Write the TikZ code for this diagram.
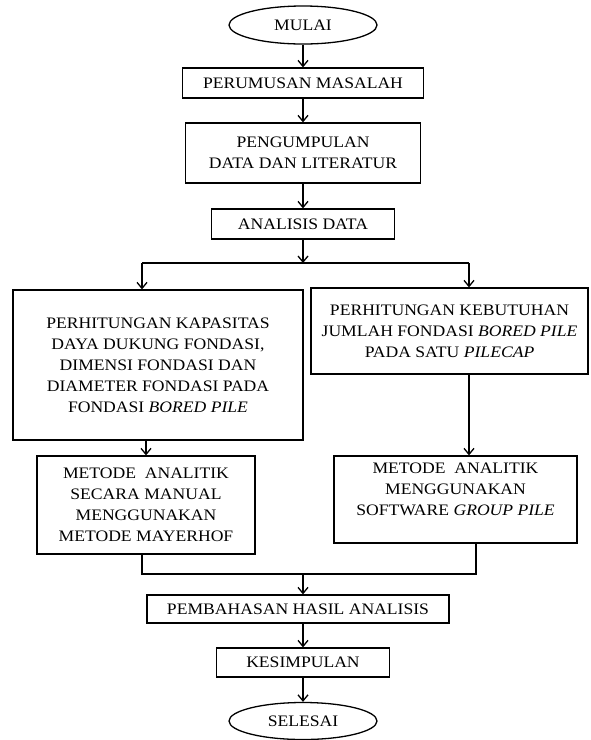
\documentclass[tikz,border=0pt]{standalone}
\usepackage{fontspec}
\setmainfont[FakeStretch=1.1]{Liberation Serif}
\usepackage{tikz}
\usetikzlibrary{shapes,arrows,arrows.meta}
\tikzstyle{block} = [draw,rectangle,fill=white,line width=1.3pt,align=center,inner sep=3pt,font=\fontsize{16}{21}\selectfont]
\tikzstyle{terminal} = [draw,ellipse,fill=white,line width=1.3pt,minimum width=148pt,minimum height=38pt,inner sep=0pt,font=\fontsize{16}{21}\selectfont]
\tikzstyle{line} = [draw,line width=1.3pt]
\tikzstyle{arrowLine} = [draw,-{Straight Barb[length=6pt,width=10pt]},line width=1.3pt]
\begin{document}
\begin{tikzpicture}[x=1pt,y=-1pt]
		\useasboundingbox (0,0) rectangle (590,740);
		\node[terminal](mulai) at (303,25){MULAI};
		\node[block,below of=mulai,node distance=58pt,minimum width=241pt,minimum height=30pt](perumusan){PERUMUSAN MASALAH};
		\node[block,below of=perumusan,node distance=70pt,minimum width=235pt,minimum height=60pt](pengumpulan){PENGUMPULAN\\DATA DAN LITERATUR};
		\node[block,below of=pengumpulan,node distance=71pt,minimum width=183pt,minimum height=30pt](analisis){ANALISIS DATA};
		\node[block,below of=analisis,node distance=141pt,xshift=-145pt,minimum width=290pt,minimum height=150pt](dayaDukung){PERHITUNGAN KAPASITAS\\DAYA DUKUNG FONDASI,\\DIMENSI FONDASI DAN\\DIAMETER FONDASI PADA\\FONDASI \textit{BORED PILE}};
		\node[block,below of=analisis,node distance=107pt,xshift=146.5pt,minimum width=277pt,minimum height=86pt](kebutuhan){PERHITUNGAN KEBUTUHAN\\JUMLAH FONDASI \textit{BORED PILE}\\PADA SATU \textit{PILECAP}};
		\node[block,below of=dayaDukung,node distance=140pt,xshift=-12pt,minimum width=218pt,minimum height=98pt](metodeManual){METODE~~ANALITIK\\SECARA MANUAL\\MENGGUNAKAN\\METODE MAYERHOF};
		\node[block,below of=kebutuhan,node distance=168.5pt,xshift=6pt,minimum width=243pt,minimum height=87pt](metodeGroup){METODE~~ANALITIK\\MENGGUNAKAN\\SOFTWARE \textit{GROUP PILE}\\\mbox{}};
		\node[block,minimum width=302pt,minimum height=28pt](pembahasan) at (298,609){PEMBAHASAN HASIL ANALISIS};
		\node[block,below of=pembahasan,node distance=53.5pt,xshift=5pt,minimum width=173pt,minimum height=29pt](kesimpulan){KESIMPULAN};
		\node[terminal,below of=kesimpulan,node distance=58.5pt,minimum height=37pt](selesai){SELESAI};
		%junctions
		\coordinate (split) at (303,263);
		\coordinate (splitL) at (142,263);
		\coordinate (splitR) at (469,263);
		\coordinate (merge) at (303,574);
		\coordinate (mergeL) at (142,574);
		\coordinate (mergeR) at (476,574);
		%arrows
		\path[arrowLine](mulai)--(perumusan);
		\path[arrowLine](perumusan)--(pengumpulan);
		\path[arrowLine](pengumpulan)--(analisis);
		\path[arrowLine](analisis)--(split);
		\path[line](splitL)--(splitR);
		\path[arrowLine](splitL)--(splitL |- dayaDukung.north);
		\path[arrowLine](splitR)--(splitR |- kebutuhan.north);
		\path[arrowLine](dayaDukung.south -| metodeManual)--(metodeManual);
		\path[arrowLine](splitR |- kebutuhan.south)--(splitR |- metodeGroup.north);
		\path[line](mergeL |- metodeManual.south)--(mergeL)--(mergeR)--(mergeR |- metodeGroup.south);
		\path[arrowLine](merge)--(merge |- pembahasan.north);
		\path[arrowLine](kesimpulan.north |- pembahasan.south)--(kesimpulan);
		\path[arrowLine](kesimpulan)--(selesai);
\end{tikzpicture}
\end{document}
